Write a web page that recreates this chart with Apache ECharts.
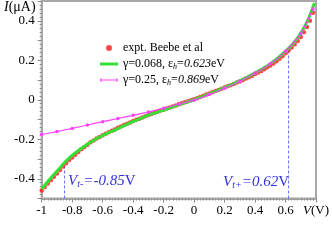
<!DOCTYPE html>
<html><head><meta charset="utf-8">
<script src="https://cdn.jsdelivr.net/npm/echarts@6/dist/echarts.min.js"></script>
<style>html,body{margin:0;padding:0;background:#fff}#c{width:332px;height:240px}</style>
</head><body><div id="c"></div>
<script>
// Experimental data (V in volts, I in µA)
const exptV = [-1.00,-0.98,-0.96,-0.94,-0.92,-0.90,-0.88,-0.86,-0.84,-0.82,-0.80,-0.78,-0.76,-0.74,-0.72,-0.70,-0.68,-0.66,-0.64,-0.62,-0.60,-0.58,-0.56,-0.54,-0.52,-0.50,-0.48,-0.46,-0.44,-0.42,-0.40,-0.38,-0.36,-0.34,-0.32,-0.30,-0.28,-0.26,-0.24,-0.22,-0.20,-0.18,-0.16,-0.14,-0.12,-0.10,-0.08,-0.06,-0.04,-0.02,0.00,0.02,0.04,0.06,0.08,0.10,0.12,0.14,0.16,0.18,0.20,0.22,0.24,0.26,0.28,0.30,0.32,0.34,0.36,0.38,0.40,0.42,0.44,0.46,0.48,0.50,0.52,0.54,0.56,0.58,0.60,0.62,0.64,0.66,0.68,0.70,0.72,0.74,0.76,0.78];
const exptI = [-0.460,-0.442,-0.424,-0.407,-0.390,-0.374,-0.356,-0.338,-0.321,-0.305,-0.292,-0.278,-0.264,-0.251,-0.239,-0.228,-0.215,-0.206,-0.196,-0.188,-0.180,-0.172,-0.165,-0.157,-0.150,-0.142,-0.135,-0.128,-0.121,-0.115,-0.108,-0.101,-0.096,-0.090,-0.084,-0.077,-0.072,-0.066,-0.061,-0.055,-0.050,-0.044,-0.039,-0.034,-0.029,-0.023,-0.018,-0.013,-0.008,-0.003,0.002,0.008,0.014,0.020,0.026,0.032,0.038,0.044,0.050,0.056,0.062,0.068,0.074,0.080,0.087,0.093,0.100,0.107,0.114,0.122,0.130,0.138,0.146,0.155,0.164,0.174,0.184,0.195,0.207,0.220,0.235,0.249,0.264,0.281,0.298,0.318,0.342,0.368,0.400,0.440];
// Theory gamma=0.068
const fit1V = [-1.00,-0.95,-0.90,-0.85,-0.80,-0.75,-0.70,-0.65,-0.60,-0.55,-0.50,-0.45,-0.40,-0.35,-0.30,-0.25,-0.20,-0.15,-0.10,-0.05,0.00,0.05,0.10,0.15,0.20,0.25,0.30,0.35,0.40,0.45,0.50,0.55,0.60,0.65,0.70,0.75,0.79];
const fit1I = [-0.452,-0.405,-0.362,-0.318,-0.282,-0.252,-0.225,-0.201,-0.181,-0.163,-0.146,-0.128,-0.110,-0.094,-0.078,-0.065,-0.052,-0.039,-0.026,-0.013,0.000,0.015,0.030,0.045,0.061,0.078,0.096,0.115,0.136,0.158,0.183,0.212,0.246,0.285,0.337,0.410,0.490];
// Theory gamma=0.25
const fit2V = [-1.0,-0.9,-0.8,-0.7,-0.6,-0.5,-0.4,-0.3,-0.2,-0.1,0.0,0.1,0.2,0.3,0.4,0.5,0.6,0.7,0.78];
const fit2I = [-0.176,-0.161,-0.145,-0.128,-0.111,-0.095,-0.079,-0.062,-0.043,-0.023,-0.002,0.026,0.058,0.094,0.135,0.182,0.246,0.336,0.460];
// Threshold voltages [V, I at curve]
const vtMinus = [-0.85, -0.316];
const vtPlus = [0.62, 0.260];
const xTicks = [-1,-0.8,-0.6,-0.4,-0.2,0,0.2,0.4,0.6];
const yTicks = [-0.4,-0.2,0,0.2,0.4];

const FONT = 'Liberation Serif';
const zip = (a,b)=>a.map((v,i)=>[v,b[i]]);
const chart = echarts.init(document.getElementById('c'), null, {renderer:'canvas'});
const axisGray = '#a8a8a8';
const blue = '#3030e0';
const lineIcon = 'path://M0,0H18V3H0Z';
const dotLineIcon = 'path://M0,1.5a1.5,1.5 0 1,0 3,0a1.5,1.5 0 1,0 -3,0Z M15,1.5a1.5,1.5 0 1,0 3,0a1.5,1.5 0 1,0 -3,0Z M1.5,1.1H16.5V1.9H1.5Z';
chart.setOption({
  animation:false,
  grid:{left:41.7, top:1, width:279, height:197.5, show:true, borderColor:axisGray, borderWidth:2, containLabel:false},
  xAxis:{type:'value', min:-1, max:0.8, interval:0.2,
    axisLine:{show:true, onZero:false, lineStyle:{color:axisGray,width:2}},
    axisTick:{show:true, inside:false, length:4, lineStyle:{color:'#888'}},
    minorTick:{show:true, splitNumber:10, length:2, lineStyle:{color:'#888'}},
    splitLine:{show:false},
    axisLabel:{margin:6, fontFamily:FONT, fontSize:13, color:'#000',
      formatter:v=>{const r=Math.round(v*10)/10; if(Math.abs(r-0.8)<1e-6) return '{i|V}(V)'; return xTicks.some(t=>Math.abs(t-r)<1e-6)?String(r):'';},
      rich:{i:{fontStyle:'italic', fontFamily:FONT, fontSize:13, color:'#000'}}}
  },
  yAxis:{type:'value', min:-0.5, max:0.5, interval:0.1,
    axisLine:{show:true, onZero:false, lineStyle:{color:axisGray,width:2}},
    axisTick:{show:true, inside:false, length:4, lineStyle:{color:'#888'}},
    minorTick:{show:true, splitNumber:5, length:2, lineStyle:{color:'#888'}},
    splitLine:{show:false},
    axisLabel:{margin:7, fontFamily:FONT, fontSize:13, color:'#000',
      formatter:v=>{const r=Math.round(v*10)/10; return yTicks.some(t=>Math.abs(t-r)<1e-6)?String(r):'';}}
  },
  legend:{orient:'vertical', left:100, top:41, itemWidth:18, itemHeight:6, itemGap:2, padding:0,
    data:[{name:'expt', icon:'circle'},{name:'g1', icon:lineIcon},{name:'g2', icon:dotLineIcon}],
    formatter:n=>({expt:'expt. Beebe et al', g1:'γ=0.068, ε{s|h}={i|0.623}eV', g2:'γ=0.25, ε{s|h}={i|0.869}eV'})[n],
    textStyle:{fontFamily:FONT, fontSize:12, lineHeight:14, color:'#000',
      rich:{i:{fontFamily:FONT, fontSize:12, fontStyle:'italic', color:'#000'},
            s:{fontFamily:FONT, fontSize:8, fontStyle:'italic', color:'#000', verticalAlign:'bottom', lineHeight:14, padding:[5,0,0,0]}}}
  },
  series:[
    {name:'vtm', type:'line', data:[[vtMinus[0],-0.5],vtMinus], symbol:'none', silent:true,
      lineStyle:{color:'#6a6aff', width:1, type:[3,2]}, z:1},
    {name:'vtp', type:'line', data:[[vtPlus[0],-0.5],vtPlus], symbol:'none', silent:true,
      lineStyle:{color:'#6a6aff', width:1, type:[3,2]}, z:1},
    {name:'expt', type:'scatter', data:zip(exptV,exptI), symbol:'circle', symbolSize:4.5,
      itemStyle:{color:'#ff1a1a'}, z:2},
    {name:'g1', type:'line', data:zip(fit1V,fit1I), smooth:0.3, showSymbol:false, symbol:'none',
      lineStyle:{color:'#33e033', width:3}, itemStyle:{color:'#33e033'}, z:3},
    {name:'g2', type:'line', data:zip(fit2V,fit2I), smooth:0.2, symbol:'circle', symbolSize:3.5, showSymbol:true,
      lineStyle:{color:'#ff40ff', width:1.2}, itemStyle:{color:'#ff40ff'}, z:4}
  ],
  graphic:[
    {type:'text', left:4, top:0, style:{text:'{i|I}(μA)', fontFamily:FONT, fontSize:14, fill:'#000',
      rich:{i:{fontFamily:FONT, fontSize:14, fontStyle:'italic', fill:'#000'}}}},
    {type:'text', x:68, y:181, style:{text:'{v|V}{s|t-}{n|=-0.85}{r|V}', verticalAlign:'middle', align:'left',
      rich:{v:{fontFamily:FONT, fontSize:15, fontStyle:'italic', fill:blue},
            s:{fontFamily:FONT, fontSize:10, fontStyle:'italic', fill:blue, verticalAlign:'bottom', padding:[7,0,0,0]},
            n:{fontFamily:FONT, fontSize:15, fontStyle:'italic', fill:blue},
            r:{fontFamily:FONT, fontSize:15, fill:blue}}}},
    {type:'text', x:289, y:182, style:{text:'{v|V}{s|t+}{n|=0.62}{r|V}', verticalAlign:'middle', align:'right',
      rich:{v:{fontFamily:FONT, fontSize:15, fontStyle:'italic', fill:blue},
            s:{fontFamily:FONT, fontSize:10, fontStyle:'italic', fill:blue, verticalAlign:'bottom', padding:[7,0,0,0]},
            n:{fontFamily:FONT, fontSize:15, fontStyle:'italic', fill:blue},
            r:{fontFamily:FONT, fontSize:15, fill:blue}}}}
  ]
});
</script></body></html>
